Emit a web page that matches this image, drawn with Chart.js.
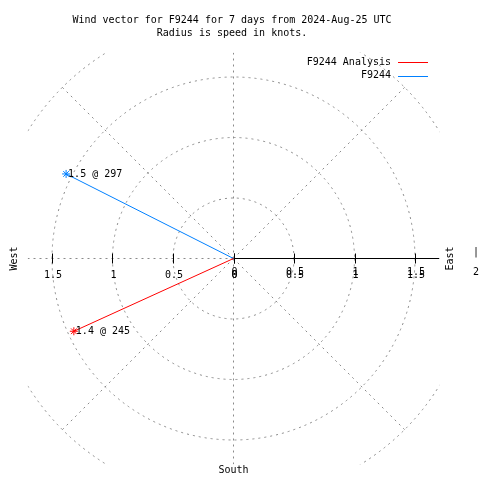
<!DOCTYPE html>
<html><head><meta charset="utf-8">
<script src="https://cdn.jsdelivr.net/npm/chart.js@4/dist/chart.umd.min.js"></script>
<style>html,body{margin:0;padding:0;background:#fff}canvas{display:block}</style>
</head><body>
<canvas id="c" width="480" height="480"></canvas>
<script>
// ---- data ----
const titleLines = ['Wind vector for F9244 for 7 days from 2024-Aug-25 UTC', 'Radius is speed in knots.'];
const seriesNames = ['F9244 Analysis', 'F9244'];
const seriesColors = ['#ff0000', '#0080ff'];
const speeds = [1.45, 1.55];          // knots
const directions = [245.5, 296.8];    // degrees, clockwise from north
const pointLabels = ['1.4 @ 245', '1.5 @ 297'];
const ringRadii = [0.5, 1, 1.5, 2];
const spokeAngles = [0, 45, 90, 135, 180, 225, 270, 315];
const tickValues = [0, 0.5, 1, 1.5];
const tickLabels = ['0', '0.5', '1', '1.5'];
const axisLimit = 1.7;

const FONT = '10px "DejaVu Sans Mono", "Liberation Mono", monospace';
const rad = d => d * Math.PI / 180;

const datasets = seriesNames.map((name, i) => ({
  label: name,
  data: [{x: 0, y: 0}, {x: speeds[i] * Math.sin(rad(directions[i])), y: speeds[i] * Math.cos(rad(directions[i]))}],
  showLine: true,
  borderColor: seriesColors[i],
  backgroundColor: seriesColors[i],
  borderWidth: 1,
  pointStyle: 'star',
  pointRadius: [0, 4],
  pointBorderWidth: 1,
  pointBorderColor: seriesColors[i]
}));

const polarGrid = {
  id: 'polarGrid',
  beforeDatasetsDraw(chart) {
    const {ctx, chartArea: a, scales: {x, y}} = chart;
    const cx = x.getPixelForValue(0), cy = y.getPixelForValue(0);
    const k = x.getPixelForValue(1) - cx;
    ctx.save();
    ctx.beginPath();
    ctx.rect(a.left, a.top, a.right - a.left, a.bottom - a.top);
    ctx.clip();
    ctx.strokeStyle = '#8a8a8a';
    ctx.lineWidth = 1;
    ctx.setLineDash([2, 4]);
    ringRadii.forEach(r => {
      ctx.beginPath();
      ctx.arc(cx, cy, r * k, 0, Math.PI * 2);
      ctx.stroke();
    });
    const rMax = ringRadii[ringRadii.length - 1];
    spokeAngles.forEach(d => {
      ctx.beginPath();
      ctx.moveTo(cx, cy);
      ctx.lineTo(x.getPixelForValue(rMax * Math.sin(rad(d))), y.getPixelForValue(rMax * Math.cos(rad(d))));
      ctx.stroke();
    });
    ctx.restore();
    // black east axis with ticks
    ctx.save();
    ctx.strokeStyle = '#000';
    ctx.lineWidth = 1;
    ctx.beginPath();
    ctx.moveTo(cx, cy);
    ctx.lineTo(x.getPixelForValue(axisLimit), cy);
    ctx.stroke();
    tickValues.forEach(v => {
      [v, -v].forEach(t => {
        const px = Math.round(x.getPixelForValue(t)) + 0.5;
        ctx.beginPath();
        ctx.moveTo(px, cy - 5);
        ctx.lineTo(px, cy + 5);
        ctx.stroke();
      });
    });
    ctx.restore();
  },
  afterDraw(chart) {
    const {ctx, scales: {x, y}} = chart;
    const cx = x.getPixelForValue(0), cy = y.getPixelForValue(0);
    ctx.save();
    ctx.font = FONT;
    ctx.fillStyle = '#000';
    // title
    ctx.textAlign = 'center';
    ctx.textBaseline = 'middle';
    ctx.fillText(titleLines[0], 232, 20.5);
    ctx.fillText(titleLines[1], 232, 33.5);
    // legend
    ctx.textAlign = 'right';
    seriesNames.forEach((n, i) => {
      const ly = 62 + i * 13.5;
      ctx.fillText(n, 391, ly);
      ctx.strokeStyle = seriesColors[i];
      ctx.lineWidth = 1;
      ctx.beginPath();
      ctx.moveTo(398, Math.round(ly) + 0.5);
      ctx.lineTo(428, Math.round(ly) + 0.5);
      ctx.stroke();
    });
    // tick labels
    ctx.textAlign = 'center';
    tickValues.forEach((v, i) => {
      ctx.fillText(tickLabels[i], x.getPixelForValue(-v) + 1, cy + 17);
      ctx.fillText(tickLabels[i], x.getPixelForValue(v) + 1, cy + 14);
      ctx.fillText(tickLabels[i], x.getPixelForValue(v) + 1, cy + 17);
    });
    ctx.fillText('|', 476, cy - 6);
    ctx.fillText('2', 476, cy + 14);
    ctx.fillText('South', cx, 470);
    // rotated labels
    [['East', 450], ['West', 14]].forEach(([t, px]) => {
      ctx.save();
      ctx.translate(px, cy);
      ctx.rotate(-Math.PI / 2);
      ctx.fillText(t, 0, 0);
      ctx.restore();
    });
    // point labels
    ctx.textAlign = 'left';
    chart.data.datasets.forEach((ds, i) => {
      const p = ds.data[1];
      ctx.fillText(pointLabels[i], x.getPixelForValue(p.x) + 2, y.getPixelForValue(p.y));
    });
    ctx.restore();
  }
};

new Chart(document.getElementById('c'), {
  type: 'scatter',
  data: {datasets},
  options: {
    responsive: false,
    animation: false,
    layout: {padding: {left: 27.8, right: 40.8, top: 52.8, bottom: 15.8}},
    scales: {
      x: {type: 'linear', min: -axisLimit, max: axisLimit, display: false},
      y: {type: 'linear', min: -axisLimit, max: axisLimit, display: false}
    },
    plugins: {legend: {display: false}, title: {display: false}, tooltip: {enabled: false}}
  },
  plugins: [polarGrid]
});
</script>
</body></html>
